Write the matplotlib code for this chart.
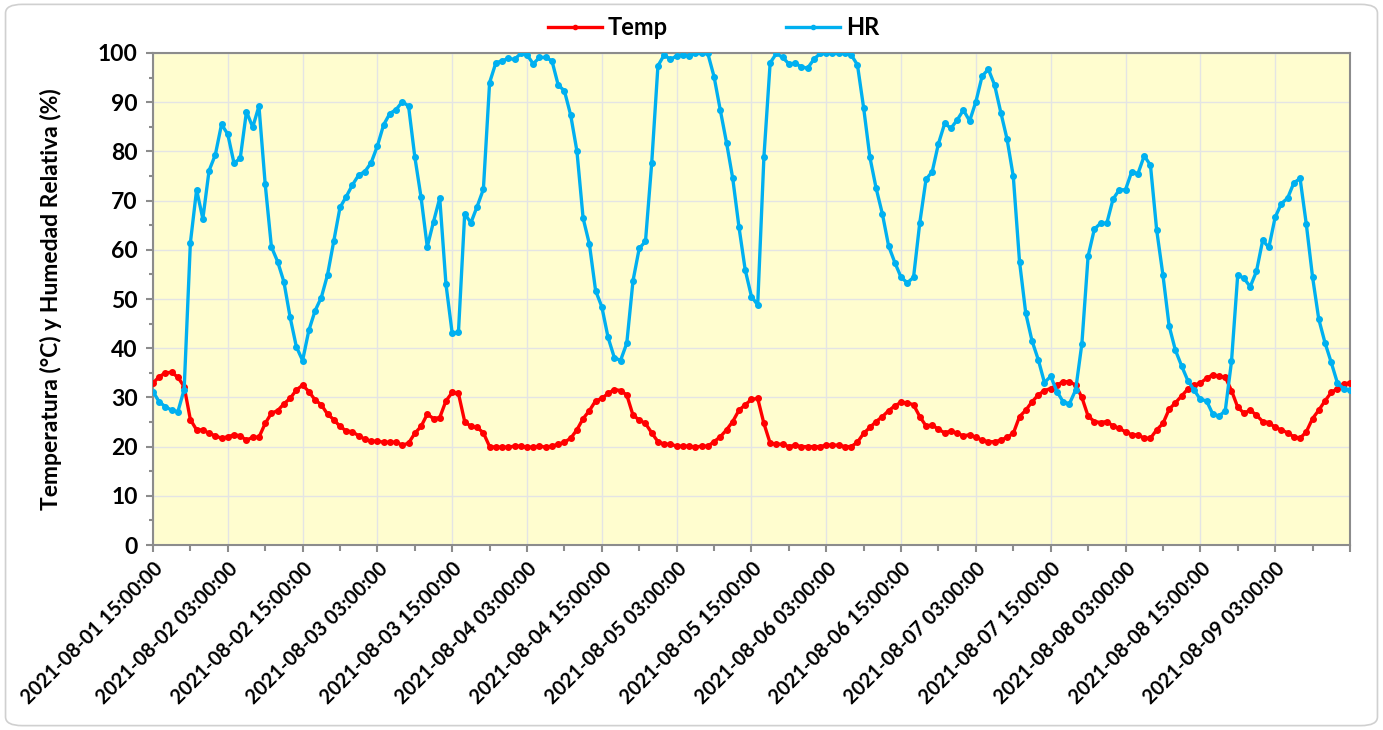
import matplotlib
matplotlib.use("Agg")
import matplotlib.pyplot as plt
import matplotlib.dates as mdates
from matplotlib.patches import FancyBboxPatch
from matplotlib.ticker import MultipleLocator
import pandas as pd

# hourly readings, 2021-08-01 15:00 -> 2021-08-09 15:00
start = "2021-08-01 15:00:00"

temp = [
    32.9, 34.2, 35.0, 35.1, 34.1, 32.2, 25.5, 23.4, 23.4, 22.7, 22.2, 21.7,
    22.0, 22.4, 22.2, 21.3, 21.9, 21.9, 24.7, 26.8, 27.3, 28.7, 29.8, 31.5,
    32.5, 31.2, 29.5, 28.5, 26.6, 25.5, 24.1, 23.2, 23.0, 22.2, 21.5, 21.1,
    21.1, 20.9, 20.9, 20.9, 20.3, 20.7, 22.7, 24.1, 26.6, 25.7, 25.9, 29.3,
    31.0, 30.8, 25.1, 24.1, 23.9, 22.8, 20.0, 19.9, 19.9, 19.9, 20.1, 20.1,
    19.9, 19.9, 20.1, 19.9, 20.1, 20.5, 20.9, 21.7, 23.4, 25.7, 27.3, 29.3,
    29.8, 30.8, 31.6, 31.4, 30.5, 26.4, 25.4, 24.7, 22.8, 21.0, 20.5, 20.5,
    20.1, 20.1, 20.1, 19.9, 20.1, 20.1, 21.0, 22.0, 23.4, 25.1, 27.4, 28.5,
    29.6, 29.8, 24.7, 20.7, 20.5, 20.5, 20.0, 20.3, 20.0, 20.0, 20.0, 20.0,
    20.3, 20.3, 20.3, 20.0, 20.0, 20.9, 22.7, 23.9, 25.1, 26.1, 27.3, 28.3,
    29.0, 28.9, 28.5, 26.1, 24.2, 24.4, 23.5, 22.8, 23.2, 22.7, 22.2, 22.4,
    21.9, 21.3, 21.0, 21.0, 21.3, 21.9, 22.7, 26.1, 27.4, 29.1, 30.5, 31.4,
    31.8, 32.5, 33.2, 33.2, 32.5, 30.0, 26.2, 25.1, 24.9, 25.1, 24.2, 23.7,
    23.0, 22.4, 22.4, 21.7, 21.7, 23.4, 24.7, 27.6, 28.9, 30.3, 31.7, 32.5,
    32.9, 33.9, 34.6, 34.3, 34.1, 31.4, 28.0, 26.8, 27.4, 26.4, 25.1, 24.9,
    23.9, 23.4, 22.8, 22.0, 21.7, 23.0, 25.7, 27.4, 29.3, 31.0, 31.8, 32.7,
    33.0,
]

hr = [
    31.2, 29.1, 28.1, 27.4, 27.1, 31.6, 61.4, 72.2, 66.3, 76.1, 79.3, 85.5,
    83.5, 77.6, 78.6, 88.1, 84.9, 89.2, 73.4, 60.6, 57.6, 53.5, 46.3, 40.3,
    37.5, 43.6, 47.6, 50.3, 54.9, 61.7, 68.6, 70.8, 73.2, 75.2, 75.9, 77.7,
    81.1, 85.4, 87.7, 88.5, 90.1, 89.2, 78.9, 70.7, 60.6, 65.7, 70.5, 53.0,
    43.0, 43.2, 67.3, 65.5, 68.8, 72.3, 94.0, 98.0, 98.4, 98.9, 98.7, 99.9,
    99.6, 97.8, 99.1, 99.1, 98.4, 93.5, 92.3, 87.4, 80.1, 66.4, 61.2, 51.7,
    48.4, 42.2, 38.1, 37.5, 41.0, 53.7, 60.3, 61.7, 77.6, 97.4, 99.6, 98.7,
    99.4, 99.6, 99.4, 99.9, 99.9, 99.9, 95.2, 88.4, 81.8, 74.5, 64.6, 55.9,
    50.5, 48.8, 78.9, 98.0, 99.9, 99.1, 97.8, 97.9, 97.2, 96.9, 98.7, 99.9,
    99.9, 99.9, 99.9, 99.9, 99.6, 97.6, 88.8, 78.8, 72.5, 67.3, 60.8, 57.4,
    54.4, 53.3, 54.4, 65.5, 74.3, 75.9, 81.6, 85.7, 84.7, 86.4, 88.4, 86.2,
    90.1, 95.3, 96.7, 93.5, 87.9, 82.5, 74.9, 57.6, 47.1, 41.5, 37.7, 33.0,
    34.3, 31.2, 29.1, 28.7, 31.5, 40.9, 58.7, 64.2, 65.4, 65.4, 70.3, 72.2,
    72.2, 75.9, 75.5, 79.1, 77.2, 64.0, 54.9, 44.5, 39.6, 36.4, 33.4, 31.5,
    29.6, 29.3, 26.6, 26.2, 27.3, 37.3, 54.9, 54.2, 52.5, 55.6, 61.9, 60.5,
    66.6, 69.4, 70.5, 73.6, 74.5, 65.2, 54.5, 45.9, 41.1, 37.1, 32.9, 31.8,
    31.5,
]

times = pd.date_range(start, periods=len(temp), freq="h")

plt.rcParams["font.family"] = ["Lato", "DejaVu Sans"]
plt.rcParams["font.weight"] = "bold"

fig = plt.figure(figsize=(13.83, 7.30), dpi=100)
# rounded frame around the whole chart
fig.patches.append(FancyBboxPatch((0.004, 0.006), 0.992, 0.988,
                                  boxstyle="round,pad=0,rounding_size=0.012",
                                  transform=fig.transFigure, facecolor="white",
                                  edgecolor="#d0d0d0", linewidth=1.2, zorder=-10))

ax = fig.add_axes([0.1106, 0.2534, 0.8655, 0.6740])
ax.set_facecolor("#fffdcf")

ax.plot(times, temp, color="#ff0000", lw=2.4, marker="o", ms=4, label="Temp", zorder=3)
ax.plot(times, hr, color="#00b0f0", lw=2.4, marker="o", ms=4, label="HR", zorder=3)

ax.set_ylim(0, 100)
ax.set_xlim(times[0], times[-1])
ax.yaxis.set_major_locator(MultipleLocator(10))
ax.yaxis.set_minor_locator(MultipleLocator(5))
ax.xaxis.set_major_locator(mdates.HourLocator(byhour=[3, 15]))
ax.xaxis.set_minor_locator(mdates.HourLocator(byhour=[9, 21]))
ax.xaxis.set_major_formatter(mdates.DateFormatter("%Y-%m-%d %H:%M:%S"))

ax.grid(True, which="major", color="#e4e4e4", lw=1.0, zorder=0)
ax.set_axisbelow(True)
for s in ax.spines.values():
    s.set_color("#8c8c8c")
    s.set_linewidth(1.5)

ax.tick_params(axis="both", which="both", direction="out", color="#8c8c8c", width=1.5)
ax.tick_params(axis="y", which="major", length=5, labelsize=16.5, pad=6)
ax.tick_params(axis="y", which="minor", length=3)
ax.tick_params(axis="x", which="major", length=5, labelsize=14.3, pad=5)
ax.tick_params(axis="x", which="minor", length=4)

fig.canvas.draw()
xlabels = ax.get_xticklabels()
for lbl in xlabels:
    lbl.set_rotation(45)
    lbl.set_ha("right")
    lbl.set_va("top")
    lbl.set_rotation_mode("anchor")
# the end-of-range tick carries no label in the original
xlabels[-1].set_visible(False)
for lbl in ax.get_yticklabels() + xlabels:
    lbl.set_fontweight("bold")

ax.set_ylabel("Temperatura (°C) y Humedad Relativa (%)", fontsize=16.5,
              fontweight="bold", labelpad=26)

leg = fig.legend(loc="center", bbox_to_anchor=(0.516, 0.962), ncol=2, frameon=False,
                 columnspacing=5.0, handlelength=2.3, handletextpad=0.25,
                 prop={"weight": "bold", "size": 17})
for h in leg.legend_handles:
    h.set_markersize(3)

fig.savefig("out.png", dpi=100)
